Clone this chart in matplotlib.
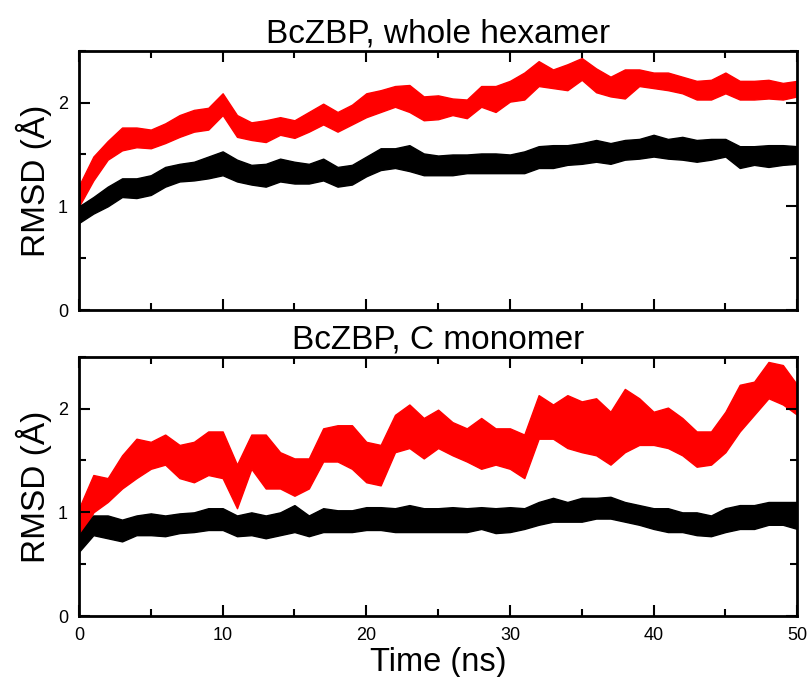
import numpy as np
import matplotlib
matplotlib.use("Agg")
import matplotlib.pyplot as plt
from matplotlib.ticker import MultipleLocator

plt.rcParams['font.family'] = ['Liberation Sans', 'DejaVu Sans']

# time axis (ns), one reading per ns
time_ns = list(range(0, 51))

# whole hexamer - black band (low / high edge of the noisy trace)
hex_black_lo = [0.84, 0.93, 1.00, 1.09, 1.08, 1.11, 1.19, 1.24, 1.25, 1.27,
                1.30, 1.24, 1.21, 1.19, 1.24, 1.22, 1.22, 1.25, 1.19, 1.21,
                1.29, 1.35, 1.37, 1.34, 1.30, 1.30, 1.30, 1.32, 1.32, 1.32,
                1.32, 1.32, 1.37, 1.37, 1.40, 1.41, 1.43, 1.41, 1.45, 1.46,
                1.48, 1.46, 1.45, 1.43, 1.45, 1.48, 1.37, 1.40, 1.38, 1.40,
                1.41]
hex_black_hi = [1.00, 1.09, 1.19, 1.27, 1.27, 1.30, 1.38, 1.41, 1.43, 1.48,
                1.53, 1.45, 1.40, 1.41, 1.46, 1.43, 1.41, 1.46, 1.38, 1.40,
                1.48, 1.56, 1.56, 1.59, 1.51, 1.49, 1.50, 1.50, 1.51, 1.51,
                1.50, 1.53, 1.58, 1.59, 1.59, 1.61, 1.64, 1.61, 1.64, 1.65,
                1.69, 1.65, 1.67, 1.64, 1.65, 1.65, 1.58, 1.58, 1.59, 1.59,
                1.58]

# whole hexamer - red band
hex_red_lo = [1.00, 1.25, 1.45, 1.54, 1.57, 1.56, 1.61, 1.67, 1.72, 1.74,
              1.88, 1.67, 1.64, 1.62, 1.69, 1.66, 1.72, 1.79, 1.72, 1.79,
              1.86, 1.91, 1.96, 1.91, 1.83, 1.84, 1.88, 1.85, 1.96, 1.91,
              2.01, 2.03, 2.16, 2.14, 2.12, 2.22, 2.10, 2.06, 2.04, 2.16,
              2.14, 2.12, 2.09, 2.03, 2.03, 2.09, 2.03, 2.03, 2.04, 2.03,
              2.06]
hex_red_hi = [1.20, 1.48, 1.63, 1.76, 1.76, 1.74, 1.80, 1.88, 1.93, 1.95,
              2.09, 1.88, 1.81, 1.83, 1.86, 1.83, 1.91, 1.99, 1.91, 1.98,
              2.09, 2.12, 2.16, 2.17, 2.06, 2.07, 2.04, 2.03, 2.16, 2.16,
              2.21, 2.29, 2.40, 2.32, 2.37, 2.43, 2.33, 2.25, 2.32, 2.32,
              2.29, 2.29, 2.25, 2.21, 2.22, 2.29, 2.21, 2.21, 2.22, 2.19,
              2.21]

# C monomer - black band
mono_black_lo = [0.62, 0.78, 0.75, 0.72, 0.78, 0.78, 0.77, 0.80, 0.81, 0.83,
                 0.83, 0.77, 0.78, 0.75, 0.78, 0.81, 0.77, 0.81, 0.81, 0.81,
                 0.83, 0.83, 0.81, 0.81, 0.81, 0.81, 0.81, 0.81, 0.84, 0.80,
                 0.81, 0.84, 0.88, 0.91, 0.91, 0.91, 0.94, 0.94, 0.91, 0.88,
                 0.84, 0.81, 0.81, 0.78, 0.77, 0.81, 0.84, 0.84, 0.88, 0.88,
                 0.84]
mono_black_hi = [0.78, 0.97, 0.97, 0.93, 0.97, 0.99, 0.97, 0.99, 1.00, 1.04,
                 1.04, 0.97, 1.00, 0.97, 1.00, 1.07, 0.97, 1.04, 1.02, 1.02,
                 1.05, 1.05, 1.04, 1.07, 1.04, 1.04, 1.05, 1.04, 1.05, 1.04,
                 1.05, 1.04, 1.10, 1.14, 1.10, 1.14, 1.14, 1.15, 1.10, 1.07,
                 1.04, 1.04, 1.00, 1.00, 0.97, 1.04, 1.07, 1.07, 1.10, 1.10,
                 1.10]

# C monomer - red band
mono_red_lo = [0.72, 1.00, 1.10, 1.23, 1.33, 1.42, 1.46, 1.33, 1.29, 1.36,
               1.33, 1.04, 1.42, 1.23, 1.23, 1.16, 1.23, 1.49, 1.49, 1.42,
               1.29, 1.26, 1.58, 1.62, 1.52, 1.62, 1.55, 1.49, 1.42, 1.46,
               1.42, 1.33, 1.71, 1.71, 1.62, 1.58, 1.55, 1.46, 1.58, 1.65,
               1.65, 1.62, 1.55, 1.44, 1.46, 1.58, 1.78, 1.94, 2.10, 2.04,
               1.94]
mono_red_hi = [1.04, 1.36, 1.33, 1.55, 1.71, 1.68, 1.75, 1.65, 1.68, 1.78,
               1.78, 1.46, 1.75, 1.75, 1.58, 1.52, 1.52, 1.81, 1.84, 1.84,
               1.68, 1.65, 1.94, 2.04, 1.91, 1.99, 1.87, 1.81, 1.91, 1.81,
               1.81, 1.75, 2.13, 2.04, 2.13, 2.07, 2.10, 1.97, 2.19, 2.10,
               1.97, 2.01, 1.91, 1.78, 1.78, 1.97, 2.23, 2.26, 2.45, 2.42,
               2.23]

titles = ["BcZBP, whole hexamer", "BcZBP, C monomer"]

fig = plt.figure(figsize=(8.11, 6.77), dpi=100)
ax1 = fig.add_axes([0.0974, 0.542, 0.8856, 0.383])
ax2 = fig.add_axes([0.0974, 0.090, 0.8856, 0.383])

panels = [
    (ax1, hex_black_lo, hex_black_hi, hex_red_lo, hex_red_hi),
    (ax2, mono_black_lo, mono_black_hi, mono_red_lo, mono_red_hi),
]

t = np.array(time_ns)
for i, (ax, blo, bhi, rlo, rhi) in enumerate(panels):
    ax.fill_between(t, rlo, rhi, color="#ff0000", lw=1.0, edgecolor="#ff0000")
    ax.fill_between(t, blo, bhi, color="black", lw=1.0, edgecolor="black")
    ax.set_xlim(0, 50)
    ax.set_ylim(0, 2.5)
    ax.xaxis.set_major_locator(MultipleLocator(10))
    ax.xaxis.set_minor_locator(MultipleLocator(5))
    ax.yaxis.set_major_locator(MultipleLocator(1))
    ax.yaxis.set_minor_locator(MultipleLocator(0.5))
    ax.tick_params(which="both", direction="in", top=True, right=True,
                   width=1.5, labelsize=13, pad=8)
    ax.tick_params(which="major", length=8)
    ax.tick_params(which="minor", length=5)
    for s in ax.spines.values():
        s.set_linewidth(2)
    ax.set_title(titles[i], fontsize=24, pad=6)
    ax.set_ylabel("RMSD (Å)", fontsize=24, labelpad=4)

ax1.tick_params(labelbottom=False)
ax2.set_xlabel("Time (ns)", fontsize=23.5, labelpad=2)

fig.savefig("out.png", dpi=100)
